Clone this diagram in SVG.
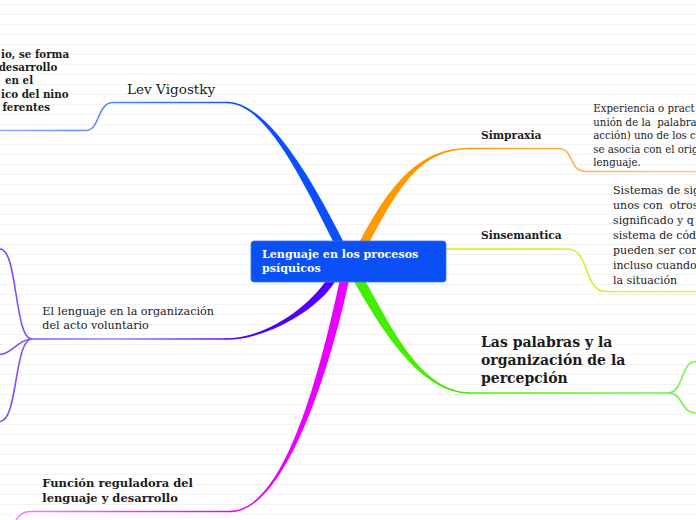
<svg xmlns="http://www.w3.org/2000/svg" width="696" height="520" viewBox="0 0 696 520">
<defs>
<pattern id="lines" width="10" height="10" patternUnits="userSpaceOnUse"><rect width="10" height="10" fill="#ffffff"/><rect y="4" width="10" height="1" fill="#f3f3f3"/></pattern>
<linearGradient id="gBlue" gradientUnits="userSpaceOnUse" x1="0" y1="0" x2="228" y2="0"><stop offset="0" stop-color="#8eaeff"/><stop offset="1" stop-color="#1456ff"/></linearGradient>
<linearGradient id="gOrange" gradientUnits="userSpaceOnUse" x1="469" y1="0" x2="696" y2="0"><stop offset="0" stop-color="#ff9a10"/><stop offset="1" stop-color="#ffc98a"/></linearGradient>
<linearGradient id="gYellow" gradientUnits="userSpaceOnUse" x1="446" y1="0" x2="696" y2="0"><stop offset="0" stop-color="#cdee00"/><stop offset="1" stop-color="#d9f060"/></linearGradient>
<linearGradient id="gGreen" gradientUnits="userSpaceOnUse" x1="470" y1="0" x2="696" y2="0"><stop offset="0" stop-color="#48ec10"/><stop offset="1" stop-color="#7af055"/></linearGradient>
<linearGradient id="gPurple" gradientUnits="userSpaceOnUse" x1="226" y1="0" x2="0" y2="0"><stop offset="0" stop-color="#5a18ff"/><stop offset="0.5" stop-color="#a27cff"/><stop offset="1" stop-color="#7a44ff"/></linearGradient>
<linearGradient id="gMagenta" gradientUnits="userSpaceOnUse" x1="231" y1="0" x2="0" y2="0"><stop offset="0" stop-color="#e800ff"/><stop offset="1" stop-color="#f48cff"/></linearGradient>
</defs>
<style>
.t{font-family:"DejaVu Serif",Georgia,serif;fill:#1c1c1c}
.b{font-weight:bold}
.thin{fill:none;stroke-width:1.6;stroke-linecap:round}
</style>
<rect width="696" height="520" fill="url(#lines)"/>
<g id="connectors">
<path d="M227,101.7 C265,101.7 309,173 342,239 L346.5,248 L338.5,252 L334,243 C301,177 265,103.3 227,103.3 Z" fill="#0a50ff"/>
<path class="thin" stroke="url(#gBlue)" d="M0,130.5 H86 C100,130.5 97,102.5 113,102.5 H228"/>
<path d="M470,149.3 C420,149.3 399,187.1 369,243.1 L364.3,251.9 L356.3,247.7 L361,238.9 C391,182.9 420,147.7 470,147.7 Z" fill="#ff9900"/>
<path class="thin" stroke="url(#gOrange)" d="M469,148.5 H558 C575,148.5 568,171.5 586,171.5 H696"/>
<path class="thin" stroke="url(#gYellow)" d="M446,249 H568 C590,249 583,291.5 606,291.5 H696"/>
<path d="M470,393.8 C420,393.8 380.7,327.5 355.7,284.5 L350.7,275.9 L359.3,270.9 L364.3,279.5 C389.3,322.5 420,392.2 470,392.2 Z" fill="#44ee00"/>
<path class="thin" stroke="url(#gGreen)" d="M469,393 H668 C684,393 680,361.5 696,361.5 M668,393 C684,393 680,413 696,413"/>
<path d="M225,338.2 C270,338.2 311.6,302.8 326.6,279.8 L332.1,271.4 L338.8,275.8 L333.3,284.2 C318.3,307.2 270,339.8 225,339.8 Z" fill="#5000ff"/>
<path class="thin" stroke="url(#gPurple)" d="M226,339 H32 C14,339 18,249 0,249 M32,339 C18,339 12,354.5 0,354.5 M32,339 C14,339 18,421.5 0,421.5"/>
<path d="M230,510.7 C285,510.7 320.6,369 339.6,281 L341.7,271.3 L350.5,273.2 L348.4,283 C329.4,371 285,512.3 230,512.3 Z" fill="#ea00ff"/>
<path class="thin" stroke="url(#gMagenta)" d="M231,511.5 H30 C22,511.5 18,516 15,522"/>
</g>
<g id="center">
<rect x="251" y="241" width="195" height="41" rx="3" fill="#0a50f6" stroke="#3a74ff" stroke-width="0.8"/>
<text class="t b" font-size="11.1" style="fill:#ffffff"><tspan x="262" y="258">Lenguaje en los procesos</tspan><tspan x="262" y="272.3">psíquicos</tspan></text>
</g>
<g id="lev-vigostky">
<text class="t" x="127" y="93.5" font-size="13.6">Lev Vigostky</text>
</g>
<g id="lev-vigostky-desc">
<text class="t b" font-size="10.3"><tspan x="1" y="57.5">io, se forma</tspan><tspan x="57.3" y="71" text-anchor="end">desarrollo</tspan><tspan x="5" y="84.3">en el</tspan><tspan x="1" y="97.5">ico del nino</tspan><tspan x="50" y="111" text-anchor="end">ferentes</tspan></text>
</g>
<g id="simpraxia">
<text class="t b" x="481" y="139.3" font-size="10.7">Simpraxia</text>
</g>
<g id="simpraxia-desc">
<text class="t" font-size="10.2" xml:space="preserve"><tspan x="593.3" y="112">Experiencia o pract</tspan><tspan x="593.3" y="125.5">unión de la  palabra</tspan><tspan x="593.3" y="139">acción) uno de los c</tspan><tspan x="593.3" y="152.5">se asocia con el orig</tspan><tspan x="593.3" y="166">lenguaje.</tspan></text>
</g>
<g id="sinsemantica">
<text class="t b" x="481" y="239" font-size="10.7">Sinsemantica</text>
</g>
<g id="sinsemantica-desc">
<text class="t" font-size="11" xml:space="preserve"><tspan x="613" y="194">Sistemas de sig</tspan><tspan x="613" y="209">unos con  otros</tspan><tspan x="613" y="224">significado y q</tspan><tspan x="613" y="239">sistema de cód</tspan><tspan x="613" y="254">pueden ser con</tspan><tspan x="613" y="268.5">incluso cuando</tspan><tspan x="613" y="283.5">la situación</tspan></text>
</g>
<g id="palabras-percepcion">
<text class="t b" font-size="14"><tspan x="481" y="347.3">Las palabras y la</tspan><tspan x="481" y="365.3">organización de la</tspan><tspan x="481" y="383.3">percepción</tspan></text>
</g>
<g id="acto-voluntario">
<text class="t" font-size="11.2"><tspan x="42.3" y="315">El lenguaje en la organización</tspan><tspan x="42.3" y="329.3">del acto voluntario</tspan></text>
</g>
<g id="funcion-reguladora">
<text class="t b" font-size="11.5"><tspan x="42.3" y="486.7">Función reguladora del</tspan><tspan x="42.3" y="501.7">lenguaje y desarrollo</tspan></text>
</g>
</svg>
